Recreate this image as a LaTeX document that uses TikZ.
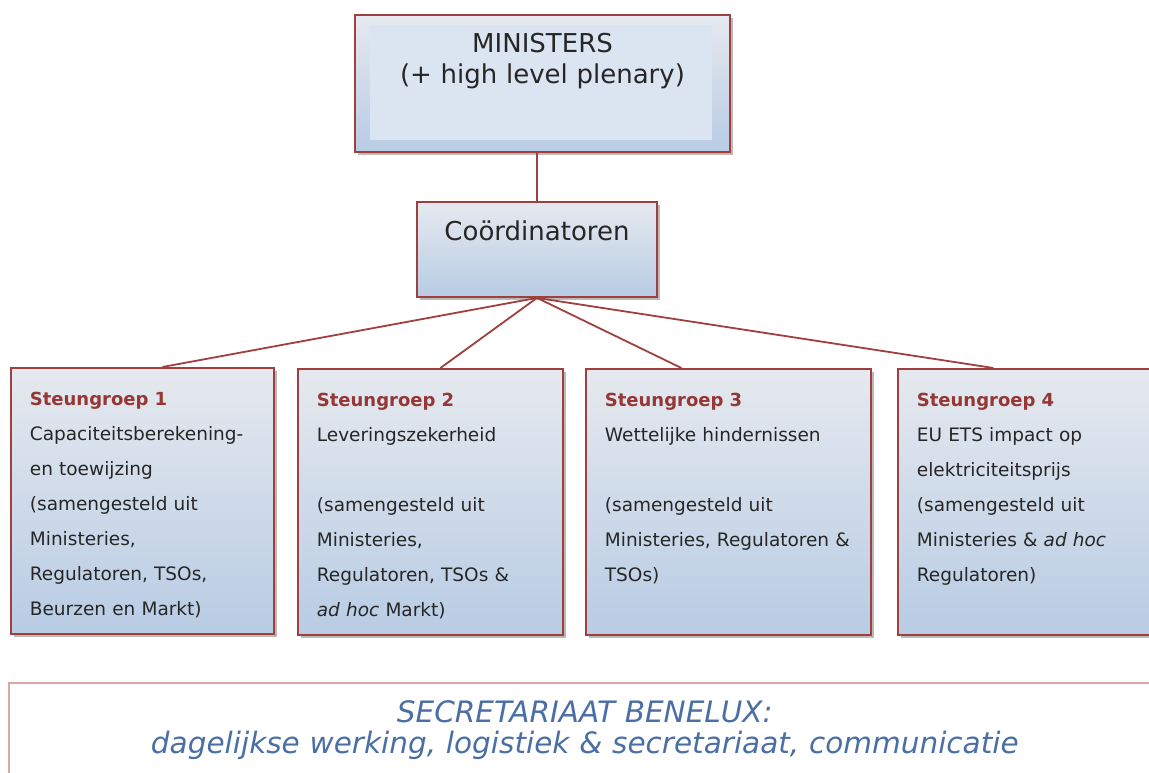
\documentclass[tikz,border=0pt]{standalone}
\usepackage{fontspec}
\setmainfont{DejaVu Sans}
\usetikzlibrary{shadows}

\definecolor{boxred}{HTML}{A0403E}
\definecolor{sgred}{HTML}{953735}
\definecolor{gradtop}{HTML}{E6E9EF}
\definecolor{gradbot}{HTML}{B8CCE4}
\definecolor{innerblue}{HTML}{DBE5F1}
\definecolor{secpink}{HTML}{D9A7A7}
\definecolor{secblue}{HTML}{4A6FA5}

\tikzset{
	orgbox/.style={draw=boxred, line width=1.8pt, top color=gradtop, bottom color=gradbot, text=black!85,
		drop shadow={shadow xshift=3pt, shadow yshift=-3pt, fill=black!45, opacity=0.6}},
	groupbox/.style={orgbox, anchor=north west, align=left, inner xsep=19pt, inner ysep=24pt,
		text height=14pt, text depth=204pt, font=\fontsize{18.5}{35}\selectfont},
	link/.style={draw=boxred, line width=1.8pt}
}

\newcommand{\sghead}[1]{{\fontsize{18}{35}\selectfont\bfseries\color{sgred}#1}}

\begin{document}
\begin{tikzpicture}[x=1pt,y=-1pt]
		
		\useasboundingbox (0,0) rectangle (1149,773);
		\clip (0,0) rectangle (1149,773);
		
		\node[orgbox, text width=375pt, inner xsep=0pt, inner ysep=10pt, text height=28pt, text depth=89pt,
			align=center, font=\fontsize{26}{31}\selectfont,
			path picture={\fill[innerblue] ([xshift=15pt,yshift=-10pt]path picture bounding box.north west)
				rectangle ([xshift=-18pt,yshift=12pt]path picture bounding box.south east);}]
			(ministers) at (542.5,83.5) {MINISTERS\\(+ high level plenary)};
		\node[orgbox, text width=240pt, inner xsep=0pt, inner ysep=8pt, text height=30pt, text depth=49pt,
			align=center, font=\fontsize{26}{31}\selectfont] (coord) at (537,249.5) {Coördinatoren};
		
		\node[groupbox, text width=225pt] (sg1) at (10,367)
			{\sghead{Steungroep 1}\\Capaciteitsberekening-\\en toewijzing\\(samengesteld uit\\Ministeries,\\Regulatoren, TSOs,\\Beurzen en Markt)};
		\node[groupbox, text width=227pt] (sg2) at (297,368)
			{\sghead{Steungroep 2}\\Leveringszekerheid\\[35pt](samengesteld uit\\Ministeries,\\Regulatoren, TSOs \&\\\textit{ad hoc} Markt)};
		\node[groupbox, text width=247pt] (sg3) at (585,368)
			{\sghead{Steungroep 3}\\Wettelijke hindernissen\\[35pt](samengesteld uit\\Ministeries, Regulatoren \&\\TSOs)};
		\node[groupbox, text width=227pt] (sg4) at (897,368)
			{\sghead{Steungroep 4}\\EU ETS impact op\\elektriciteitsprijs\\(samengesteld uit\\Ministeries \& \textit{ad hoc}\\Regulatoren)};
		
		\node[draw=secpink, line width=1.6pt, fill=white, anchor=north west, text width=1152pt, inner xsep=0pt,
			inner ysep=18pt, text height=22pt, text depth=52pt, align=center,
			font=\fontsize{29.5}{31}\selectfont\itshape, text=secblue] (secr) at (8,682)
			{SECRETARIAAT BENELUX:\\dagelijkse werking, logistiek \& secretariaat, communicatie};
		
		%%%%% Lines %%%%%%
		\draw[link] (coord.north) -- (coord.north |- ministers.south);
		\draw[link] (coord.south) -- ([xshift=20pt]sg1.north);
		\draw[link] (coord.south) -- ([xshift=10pt]sg2.north);
		\draw[link] (coord.south) -- ([xshift=-47pt]sg3.north);
		\draw[link] (coord.south) -- ([xshift=-37pt]sg4.north);
		
\end{tikzpicture}
\end{document}
